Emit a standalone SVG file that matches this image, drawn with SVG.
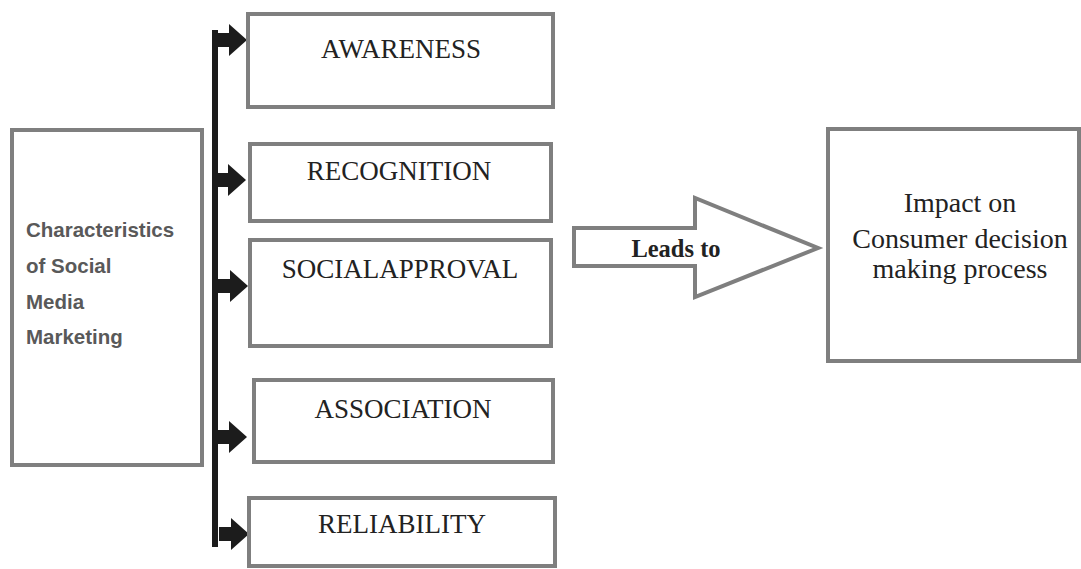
<svg xmlns="http://www.w3.org/2000/svg" width="1081" height="569" viewBox="0 0 1081 569">
<style>
.box{fill:#fff;stroke:#7f7f7f;stroke-width:4}
.lbl{font-family:"Liberation Serif","Times New Roman",serif;font-size:27px;fill:#222;text-anchor:middle}
.side{font-family:"Liberation Sans",Arial,sans-serif;font-weight:bold;font-size:20.5px;fill:#595959}
.imp{font-family:"Liberation Serif","Times New Roman",serif;font-size:28px;fill:#222;text-anchor:middle}
.conn{fill:#1c1c1c}
</style>
<defs>
<path id="tick" d="M0,-7 H12 V-16 L30,0 L12,16 V7 H0 Z"/>
</defs>
<rect width="1081" height="569" fill="#fff"/>
<g id="connectors">
<rect class="conn" x="212" y="30" width="6" height="517"/>
<use href="#tick" class="conn" x="217" y="40"/>
<use href="#tick" class="conn" x="216" y="180"/>
<use href="#tick" class="conn" x="218" y="286"/>
<use href="#tick" class="conn" x="217" y="437"/>
<use href="#tick" class="conn" x="219" y="534"/>
</g>
<g id="leads-to">
<polygon points="574,228 695,228 695,198 818,248 695,297 695,266 574,266" fill="#fff" stroke="#7f7f7f" stroke-width="4"/>
<text x="676" y="257" font-family="'Liberation Serif','Times New Roman',serif" font-weight="bold" font-size="24.5" fill="#222" text-anchor="middle">Leads to</text>
</g>
<g id="characteristics">
<rect class="box" x="12" y="130" width="190" height="335"/>
<text class="side" x="26" y="237">Characteristics</text>
<text class="side" x="26" y="273">of Social</text>
<text class="side" x="26" y="309">Media</text>
<text class="side" x="26" y="344">Marketing</text>
</g>
<g id="awareness">
<rect class="box" x="248" y="14" width="305" height="93"/>
<text class="lbl" x="401" y="58">AWARENESS</text>
</g>
<g id="recognition">
<rect class="box" x="250" y="144" width="301" height="77"/>
<text class="lbl" x="399" y="180">RECOGNITION</text>
</g>
<g id="social-approval">
<rect class="box" x="250" y="240" width="301" height="106"/>
<text class="lbl" x="400" y="278">SOCIALAPPROVAL</text>
</g>
<g id="association">
<rect class="box" x="254" y="380" width="299" height="82"/>
<text class="lbl" x="403" y="418">ASSOCIATION</text>
</g>
<g id="reliability">
<rect class="box" x="249" y="498" width="306" height="68"/>
<text class="lbl" x="402" y="533">RELIABILITY</text>
</g>
<g id="impact">
<rect class="box" x="828" y="129" width="251" height="232"/>
<text class="imp" x="960" y="212">Impact on</text>
<text class="imp" x="960" y="248">Consumer decision</text>
<text class="imp" x="960" y="278">making process</text>
</g>
</svg>
